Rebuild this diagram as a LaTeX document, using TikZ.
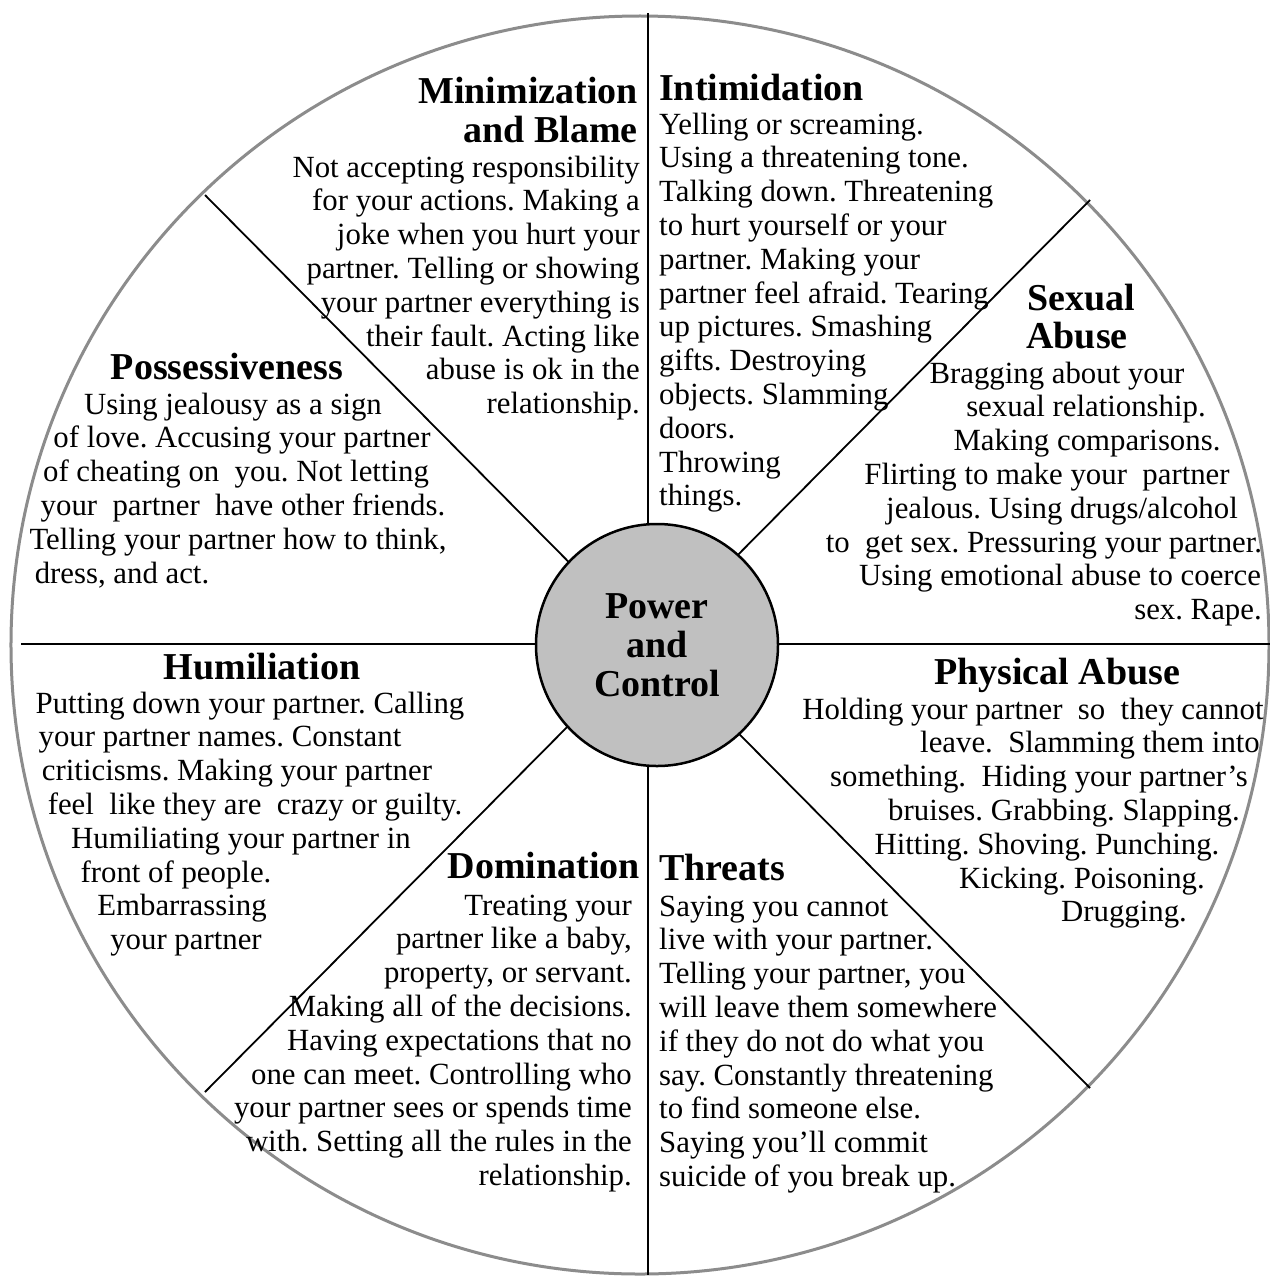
\documentclass[tikz,border=0pt]{standalone}
\usepackage{fontspec}
\setmainfont{Liberation Serif}
\usetikzlibrary{backgrounds}
\definecolor{rim}{HTML}{8C8C8C}
\definecolor{hub}{HTML}{C0C0C0}
\newcommand\rlines[4]{\foreach \t [count=\i] in {#4}{\node[body,anchor=base east] (#3-\i) at (#1,{#2+2+(\i-1)*33.8}) {\t};}}
\newcommand\llines[4]{\foreach \t [count=\i] in {#4}{\node[body,anchor=base west] (#3-\i) at (#1,{#2+2+(\i-1)*33.8}) {\t};}}
\newcommand\clines[3]{\foreach \x/\t [count=\i] in {#3}{\node[body,anchor=base] (#2-\i) at (\x,{#1+2+(\i-1)*33.8}) {\t};}}
\begin{document}
\frenchspacing
\begin{tikzpicture}[x=1bp,y=-1bp,
  body/.style={font=\fontsize{30.8bp}{34bp}\selectfont\frenchspacing, inner sep=0pt},
  head/.style={font=\fontsize{38bp}{40bp}\selectfont\bfseries, inner sep=0pt},
  spoke/.style={line width=1.8bp, black},
  hubstyle/.style={circle, draw=black, fill=hub, line width=2.5bp, minimum size=242bp, inner sep=0pt, align=center, font=\fontsize{38bp}{39bp}\selectfont\bfseries}
]
\useasboundingbox[fill=white] (0,0) rectangle (1270,1280);
\node[circle, draw=rim, line width=3bp, minimum size=1258bp, inner sep=0pt] (wheel) at (640,645) {};
\coordinate (sT) at (648,13); \coordinate (sB) at (648,1275);
\coordinate (sL) at (21,644); \coordinate (sR) at (1270,644);
\coordinate (sUL) at (205,195); \coordinate (sLR) at (1090,1088);
\coordinate (sUR) at (1090,200); \coordinate (sLL) at (205,1092);
\draw[spoke] (sT) -- (sB);
\draw[spoke] (sL) -- (sR);
\draw[spoke] (sUL) -- (sLR);
\draw[spoke] (sUR) -- (sLL);
\node[hubstyle] (pc) at (657,645) {Power\\and\\Control};
% headings
\node[head, anchor=base east] (mb-h1) at (638,103) {Minimization};
\node[head, anchor=base east] (mb-h2) at (638,142) {and Blame};
\node[head, anchor=base west] (in-h) at (659,100) {Intimidation};
\node[head, anchor=base] (sa-h1) at (1081,310) {Sexual};
\node[head, anchor=base] (sa-h2) at (1077,348) {Abuse};
\node[head, anchor=base] (po-h) at (227,379) {Possessiveness};
\node[head, anchor=base] (hu-h) at (262,679) {Humiliation};
\node[head, anchor=base east] (do-h) at (640,878) {Domination};
\node[head, anchor=base west] (th-h) at (659,880) {Threats};
\node[head, anchor=base] (pa-h) at (1057,684) {Physical Abuse};
% bodies
\rlines{640}{175}{mb}{{Not accepting responsibility},{for your actions. Making a},{joke when you hurt your},{partner. Telling or showing},{your partner everything is},{their fault. Acting like},{abuse is ok in the},{relationship.}}
\llines{659}{132}{in}{{Yelling or screaming.},{Using a threatening tone.},{Talking down. Threatening},{to hurt yourself or your},{partner. Making your},{partner feel afraid. Tearing},{up pictures. Smashing},{gifts. Destroying},{objects. Slamming},{doors.},{Throwing},{things.}}
\clines{381}{sa}{1057/{Bragging about your},1086/{sexual relationship.},1087/{Making comparisons.},1047/{Flirting to make your~ partner},1062/{jealous. Using drugs/alcohol},1044/{to~ get sex. Pressuring your partner.},1060/{Using emotional abuse to coerce},1198/{sex. Rape.}}
\clines{412}{po}{233/{Using jealousy as a sign},242/{of love. Accusing your partner},236/{of cheating on~ you. Not letting},243/{your~ partner~ have other friends.},238/{Telling your partner how to think,},122/{dress, and act.}}
\clines{711}{hu}{250/{Putting down your partner. Calling},220/{your partner names. Constant},237/{criticisms. Making your partner},255/{feel~ like they are~ crazy or guilty.},241/{Humiliating your partner in},176/{front of people.},182/{Embarrassing},186/{your partner}}
\rlines{632}{913}{do}{{Treating your},{partner like a baby,},{property, or servant.},{Making all of the decisions.},{Having expectations that no},{one can meet. Controlling who},{your partner sees or spends time},{with. Setting all the rules in the},{relationship.}}
\llines{659}{914}{th}{{Saying you cannot},{live with your partner.},{Telling your partner, you},{will leave them somewhere},{if they do not do what you},{say. Constantly threatening},{to find someone else.},{Saying you’ll commit},{suicide of you break up.}}
\clines{717}{pa}{1033/{Holding your partner~ so~ they cannot},1090/{leave.~ Slamming them into},1039/{something.~ Hiding your partner’s},1064/{bruises. Grabbing. Slapping.},1047/{Hitting. Shoving. Punching.},1082/{Kicking. Poisoning.},1124/{Drugging.}}
\end{tikzpicture}
\end{document}
